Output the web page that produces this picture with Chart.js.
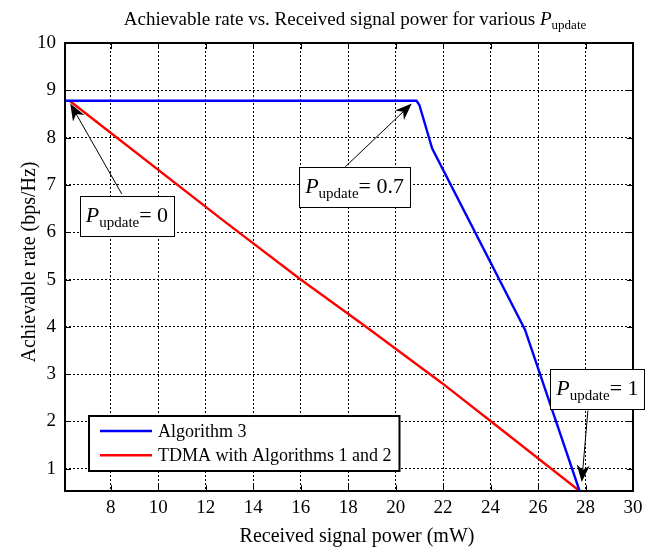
<!DOCTYPE html>
<html>
<head>
<meta charset="utf-8">
<script src="https://cdn.jsdelivr.net/npm/chart.js@4.4.1/dist/chart.umd.min.js"></script>
<style>
  body { margin: 0; background: #fff; }
  #wrap { width: 656px; height: 548px; }
</style>
</head>
<body>
<div id="wrap"><canvas id="chart" width="656" height="548"></canvas></div>
<script>
// values
const algo3Power = [6.07, 20.88, 21.0, 21.54, 25.45, 27.75];
const algo3Rate = [8.78, 8.78, 8.69, 7.77, 3.94, 0.53];
const tdmaPower = [6.26, 12.73, 16.0, 18.75, 21.93, 24.48, 27.75];
const tdmaRate = [8.78, 6.25, 5.0, 4.0, 2.82, 1.82, 0.53];
const xTicks = [8, 10, 12, 14, 16, 18, 20, 22, 24, 26, 28, 30];
const yTicks = [1, 2, 3, 4, 5, 6, 7, 8, 9, 10];
const seriesNames = ["Algorithm 3", "TDMA with Algorithms 1 and 2"];

const SERIF = "'Liberation Serif', 'Times New Roman', serif";

// text callouts: box centre, arrow tail and tip, all in data units
const notes = [
  { value: "0", box: [8.68, 6.34], tail: [8.46, 6.81], tip: [6.29, 8.72] },
  { value: "0.7", box: [18.27, 6.96], tail: [17.83, 7.36], tip: [20.68, 8.72] },
  { value: "1", box: [28.5, 2.68], tail: [28.1, 2.23], tip: [27.84, 0.72] }
];

function toPoints(xs, ys) {
  return xs.map((x, i) => ({ x: x, y: ys[i] }));
}

// draws a run of text pieces (for P with subscript), centred on cx
function richText(ctx, parts, cx, baseY) {
  let total = 0;
  parts.forEach(p => {
    ctx.font = (p.italic ? "italic " : "") + p.size + "px " + SERIF;
    p.w = ctx.measureText(p.t).width;
    total += p.w;
  });
  let x = cx - total / 2;
  ctx.textAlign = "left";
  ctx.textBaseline = "alphabetic";
  parts.forEach(p => {
    ctx.font = (p.italic ? "italic " : "") + p.size + "px " + SERIF;
    ctx.fillText(p.t, x, baseY + (p.dy || 0));
    x += p.w;
  });
  return total;
}

function pUpdate(value) {
  return [
    { t: "P", size: 22, italic: true },
    { t: "update", size: 15, dy: 5 },
    { t: "= " + value, size: 22 }
  ];
}

function arrow(ctx, x1, y1, x2, y2) {
  const ang = Math.atan2(y2 - y1, x2 - x1);
  const L = 17, W = 6.5, N = 12;
  ctx.beginPath();
  ctx.moveTo(x1, y1);
  ctx.lineTo(x2 - Math.cos(ang) * N, y2 - Math.sin(ang) * N);
  ctx.stroke();
  ctx.save();
  ctx.translate(x2, y2);
  ctx.rotate(ang);
  ctx.beginPath();
  ctx.moveTo(0, 0);
  ctx.lineTo(-L, -W);
  ctx.lineTo(-N, 0);
  ctx.lineTo(-L, W);
  ctx.closePath();
  ctx.fill();
  ctx.restore();
}

const decorations = {
  id: "decorations",
  afterDatasetsDraw(chart) {
    const ctx = chart.ctx;
    const a = chart.chartArea;
    const xs = chart.scales.x, ys = chart.scales.y;
    ctx.save();
    ctx.strokeStyle = "#000";
    ctx.lineWidth = 1;
    // inward tick marks on all four sides
    xTicks.forEach(v => {
      const px = Math.round(xs.getPixelForValue(v)) + 0.5;
      ctx.beginPath();
      ctx.moveTo(px, a.bottom); ctx.lineTo(px, a.bottom - 6);
      ctx.moveTo(px, a.top); ctx.lineTo(px, a.top + 6);
      ctx.stroke();
    });
    yTicks.forEach(v => {
      const py = Math.round(ys.getPixelForValue(v)) + 0.5;
      ctx.beginPath();
      ctx.moveTo(a.left, py); ctx.lineTo(a.left + 6, py);
      ctx.moveTo(a.right, py); ctx.lineTo(a.right - 6, py);
      ctx.stroke();
    });
    ctx.lineWidth = 2;
    ctx.strokeRect(a.left, a.top, a.right - a.left, a.bottom - a.top);
    ctx.restore();
  },
  afterDraw(chart) {
    const ctx = chart.ctx;
    const a = chart.chartArea;
    const xs = chart.scales.x, ys = chart.scales.y;
    ctx.save();
    ctx.fillStyle = "#000";

    // title
    richText(ctx, [
      { t: "Achievable rate vs. Received signal power for various ", size: 19 },
      { t: "P", size: 19, italic: true },
      { t: "update", size: 13, dy: 4 }
    ], 355, 25);

    // axis titles
    richText(ctx, [{ t: "Received signal power (mW)", size: 20 }], (a.left + a.right) / 2 + 8, 542);
    ctx.save();
    ctx.translate(30, 262);
    ctx.rotate(-Math.PI / 2);
    ctx.font = "20px " + SERIF;
    ctx.textAlign = "center";
    ctx.textBaseline = "middle";
    ctx.fillText("Achievable rate (bps/Hz)", 0, 0);
    ctx.restore();

    // legend box
    ctx.font = "18px " + SERIF;
    const textW = Math.max(...seriesNames.map(s => ctx.measureText(s).width));
    const lx = a.left + 24, ly = a.bottom - 75, lh = 55;
    const lw = 69 + textW + 8;
    ctx.fillStyle = "#fff";
    ctx.fillRect(lx, ly, lw, lh);
    ctx.lineWidth = 2;
    ctx.strokeStyle = "#000";
    ctx.strokeRect(lx, ly, lw, lh);
    chart.data.datasets.forEach((ds, i) => {
      const ry = ly + 15 + i * 24.3;
      ctx.strokeStyle = ds.borderColor;
      ctx.lineWidth = 2.4;
      ctx.beginPath();
      ctx.moveTo(lx + 11, ry); ctx.lineTo(lx + 63, ry);
      ctx.stroke();
      ctx.fillStyle = "#000";
      ctx.textAlign = "left";
      ctx.textBaseline = "middle";
      ctx.fillText(ds.label, lx + 69, ry + 1);
    });

    // callouts
    notes.forEach(n => {
      ctx.strokeStyle = "#000";
      ctx.fillStyle = "#000";
      ctx.lineWidth = 1;
      arrow(ctx, xs.getPixelForValue(n.tail[0]), ys.getPixelForValue(n.tail[1]),
        xs.getPixelForValue(n.tip[0]), ys.getPixelForValue(n.tip[1]));
      const cx = xs.getPixelForValue(n.box[0]);
      const cy = ys.getPixelForValue(n.box[1]);
      const parts = pUpdate(n.value);
      let w = 0;
      parts.forEach(p => {
        ctx.font = (p.italic ? "italic " : "") + p.size + "px " + SERIF;
        w += ctx.measureText(p.t).width;
      });
      const bw = w + 12, bh = 40;
      ctx.fillStyle = "#fff";
      ctx.fillRect(cx - bw / 2, cy - bh / 2, bw, bh);
      ctx.strokeRect(Math.round(cx - bw / 2) + 0.5, Math.round(cy - bh / 2) + 0.5, Math.round(bw), bh);
      ctx.fillStyle = "#000";
      richText(ctx, parts, cx, cy + 6);
    });
    ctx.restore();
  }
};

new Chart(document.getElementById("chart"), {
  type: "scatter",
  data: {
    datasets: [
      {
        label: seriesNames[0],
        data: toPoints(algo3Power, algo3Rate),
        showLine: true,
        borderColor: "#0000ff",
        backgroundColor: "#0000ff",
        borderWidth: 2.4,
        pointRadius: 0,
        tension: 0
      },
      {
        label: seriesNames[1],
        data: toPoints(tdmaPower, tdmaRate),
        showLine: true,
        borderColor: "#ff0000",
        backgroundColor: "#ff0000",
        borderWidth: 2.4,
        pointRadius: 0,
        tension: 0
      }
    ]
  },
  options: {
    responsive: false,
    animation: false,
    devicePixelRatio: 1,
    layout: { padding: { top: 43, right: 23, left: 0, bottom: 0 } },
    plugins: {
      legend: { display: false },
      tooltip: { enabled: false },
      title: { display: false }
    },
    scales: {
      x: {
        type: "linear",
        min: 6.07,
        max: 30,
        afterBuildTicks: s => { s.ticks = xTicks.map(v => ({ value: v })); },
        afterFit: s => { s.height = 57; },
        grid: { color: "#000", lineWidth: 1, drawTicks: false },
        border: { display: false, dash: [2, 2] },
        ticks: {
          autoSkip: false,
          maxRotation: 0,
          padding: 6,
          color: "#000",
          font: { family: SERIF, size: 19 }
        }
      },
      y: {
        type: "linear",
        min: 0.53,
        max: 10,
        afterBuildTicks: s => { s.ticks = yTicks.map(v => ({ value: v })); },
        afterFit: s => { s.width = 65; },
        grid: { color: "#000", lineWidth: 1, drawTicks: false },
        border: { display: false, dash: [2, 2] },
        ticks: {
          autoSkip: false,
          padding: 9,
          color: "#000",
          font: { family: SERIF, size: 19 }
        }
      }
    }
  },
  plugins: [decorations]
});
</script>
</body>
</html>
